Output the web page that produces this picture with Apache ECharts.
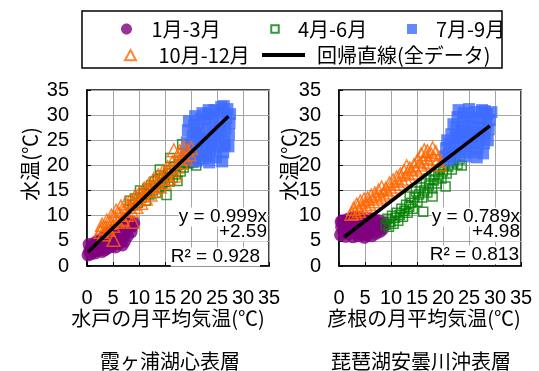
<!DOCTYPE html>
<html>
<head>
<meta charset="utf-8">
<script src="https://cdn.jsdelivr.net/npm/echarts@6/dist/echarts.min.js"></script>
<style>
  html, body { margin: 0; padding: 0; background: #fff; }
  #chart { width: 539px; height: 371px; }
</style>
</head>
<body>
<div id="chart"></div>
<script>
// Monthly mean air temperature (x, °C) vs. surface water temperature (y, °C)

const seasonNames = ['1月-3月', '4月-6月', '7月-9月', '10月-12月'];
const fitName = '回帰直線(全データ)';
const axisTicks = [0, 5, 10, 15, 20, 25, 30, 35];

const panelTitles = ['霞ヶ浦湖心表層', '琵琶湖安曇川沖表層'];
const xAxisNames = ['水戸の月平均気温(℃)', '彦根の月平均気温(℃)'];
const yAxisName = '水温(℃)';

// 霞ヶ浦 (Mito air temperature)
const kasumiJanMar = [
  [0.2, 2.2], [0.5, 3.0], [0.7, 2.4], [0.9, 3.8], [1.1, 2.8], [1.3, 3.3], [1.4, 4.5],
  [1.6, 2.6], [1.8, 3.9], [2.0, 3.1], [2.1, 5.0], [2.3, 4.2], [2.5, 3.4], [2.7, 4.8],
  [2.9, 2.9], [3.0, 5.5], [3.2, 4.0], [3.4, 3.2], [3.5, 6.0], [3.7, 4.6], [3.9, 5.3],
  [4.0, 3.6], [4.2, 6.4], [4.4, 4.9], [4.6, 3.9], [4.8, 5.8], [5.0, 7.0], [5.1, 4.4],
  [5.3, 6.3], [5.5, 3.8], [5.7, 5.2], [5.9, 7.2], [6.0, 6.0], [6.2, 4.6], [6.4, 6.8],
  [6.6, 5.5], [6.8, 7.8], [7.0, 6.4], [7.2, 4.9], [7.4, 7.3], [7.6, 8.3], [7.8, 6.0],
  [8.0, 7.6], [8.3, 8.8], [8.5, 6.8], [8.8, 8.0], [9.0, 8.6], [0.4, 4.3], [6.8, 4.2]
];
const kasumiAprJun = [
  [8.2, 13.0], [8.8, 12.2], [9.3, 13.4], [9.8, 12.6], [10.2, 15.0], [10.5, 13.6],
  [10.9, 14.4], [11.3, 13.0], [11.6, 15.4], [12.0, 14.2], [12.3, 16.0], [12.7, 15.0],
  [13.0, 16.8], [13.3, 14.5], [13.6, 17.2], [13.9, 15.6], [14.2, 18.0], [14.5, 16.4],
  [14.8, 17.6], [15.0, 16.7], [15.3, 14.1], [15.6, 18.4], [15.9, 16.8], [16.2, 19.0],
  [16.5, 17.6], [16.8, 19.8], [17.1, 18.2], [17.4, 16.9], [17.7, 20.2], [18.0, 18.8],
  [18.3, 21.0], [18.6, 19.6], [18.9, 20.6], [19.2, 22.0], [19.5, 20.4], [19.8, 21.5],
  [20.1, 22.6], [20.4, 20.6], [20.7, 21.8], [21.0, 20.0], [21.3, 22.8], [21.6, 21.2],
  [22.0, 22.2], [18.3, 24.2], [16.0, 21.5], [14.0, 19.2]
];
const kasumiJulSep = [
  [19.0, 22.2], [19.2, 24.6], [19.4, 27.0], [19.6, 28.8], [19.9, 21.0], [20.1, 23.4],
  [20.3, 25.8], [20.6, 28.0], [20.8, 29.8], [21.0, 20.8], [21.3, 22.6], [21.5, 24.8],
  [21.7, 27.2], [21.9, 29.2], [22.2, 30.4], [22.4, 21.4], [22.6, 23.6], [22.8, 26.0],
  [23.0, 28.4], [23.2, 30.2], [23.5, 20.6], [23.7, 22.8], [23.9, 25.0], [24.1, 27.4],
  [24.3, 29.6], [24.5, 31.0], [24.8, 21.6], [25.0, 23.8], [25.2, 26.2], [25.4, 28.6],
  [25.6, 30.6], [25.8, 31.6], [26.0, 20.8], [26.2, 22.6], [26.4, 25.0], [26.6, 27.4],
  [26.8, 29.4], [27.0, 31.2], [27.2, 23.8], [27.3, 26.2], [27.4, 28.4], [27.5, 30.2],
  [26.3, 31.8], [20.5, 21.6], [22.0, 25.2], [24.0, 24.0], [25.5, 27.0], [23.4, 31.0],
  [21.0, 26.5], [24.6, 26.0], [26.5, 24.0], [22.9, 22.0]
];
const kasumiOctDec = [
  [2.6, 6.8], [2.9, 8.2], [3.2, 6.3], [3.5, 7.6], [3.8, 9.0], [4.1, 7.2], [4.4, 8.6],
  [4.7, 10.0], [5.0, 8.0], [5.1, 5.2], [5.3, 9.6], [5.6, 11.0], [5.9, 8.8], [6.2, 10.3],
  [6.5, 11.8], [6.8, 9.4], [6.9, 9.1], [7.1, 11.0], [7.4, 12.5], [7.7, 10.2], [8.0, 11.8],
  [8.3, 13.0], [8.6, 11.0], [8.8, 8.8], [8.9, 12.4], [9.2, 13.8], [9.5, 11.8], [9.8, 13.2],
  [10.1, 14.6], [10.4, 12.6], [10.7, 14.0], [11.0, 15.4], [11.3, 13.4], [11.6, 15.0],
  [11.9, 16.2], [12.2, 14.2], [12.5, 15.8], [12.8, 17.2], [13.1, 15.0], [13.4, 16.6],
  [13.7, 18.0], [14.0, 15.8], [14.3, 17.4], [14.6, 18.8], [14.9, 16.6], [15.2, 18.2],
  [15.5, 19.6], [15.8, 17.4], [16.1, 19.0], [16.4, 20.6], [16.7, 23.0], [17.0, 18.0],
  [17.2, 19.8], [17.5, 21.4], [17.8, 22.8], [18.1, 20.6], [18.4, 22.0], [18.6, 23.7],
  [19.0, 21.4], [19.3, 23.0], [19.7, 22.2], [20.0, 23.5], [2.8, 7.5]
];
const kasumiFit = [0.999, 2.59, 0.928];      // slope, intercept, R²
const kasumiFitRange = [0.2, 27.2];

// 琵琶湖 (Hikone air temperature)
const biwaJanMar = [
  [0.3, 6.2], [0.5, 7.8], [0.7, 9.0], [0.9, 6.8], [1.1, 8.4], [1.3, 5.9], [1.5, 7.4],
  [1.7, 9.3], [1.9, 6.4], [2.1, 8.1], [2.3, 7.0], [2.5, 9.5], [2.7, 5.8], [2.9, 8.6],
  [3.1, 6.6], [3.3, 7.8], [3.5, 9.2], [3.7, 6.0], [3.9, 8.3], [4.1, 7.1], [4.3, 9.6],
  [4.5, 6.3], [4.7, 8.0], [4.9, 5.7], [5.1, 9.0], [5.3, 7.4], [5.5, 6.2], [5.7, 8.6],
  [5.9, 7.0], [6.1, 9.4], [6.3, 6.0], [6.5, 8.2], [6.7, 7.3], [6.9, 9.1], [7.1, 6.5],
  [7.3, 8.4], [7.5, 7.6], [7.7, 9.0], [7.9, 6.9], [8.1, 8.2], [8.4, 7.4], [8.7, 8.6],
  [0.4, 8.8], [3.0, 9.7]
];
const biwaAprJun = [
  [9.0, 8.2], [9.3, 9.4], [9.6, 7.8], [9.9, 8.8], [10.2, 10.0], [10.5, 8.4], [10.8, 9.6],
  [11.1, 10.6], [11.4, 9.0], [11.7, 10.2], [12.0, 11.4], [12.3, 9.8], [12.6, 11.0],
  [12.9, 12.2], [13.2, 10.6], [13.5, 11.8], [13.6, 13.8], [13.9, 12.6], [14.2, 11.4],
  [14.5, 13.6], [14.8, 14.8], [15.1, 12.8], [15.4, 14.2], [15.7, 15.6], [16.0, 13.6],
  [16.2, 10.8], [16.4, 15.0], [16.7, 16.4], [17.0, 14.6], [17.3, 16.0], [17.6, 17.2],
  [17.9, 15.4], [18.2, 17.0], [18.5, 18.2], [18.8, 16.4], [19.1, 17.8], [19.4, 19.2],
  [19.7, 17.4], [20.0, 18.8], [20.3, 20.0], [20.5, 15.8], [20.7, 18.4], [21.0, 19.8],
  [21.4, 21.0], [21.7, 19.2], [22.0, 20.6], [22.4, 21.6], [22.8, 20.2], [23.2, 21.2],
  [23.6, 20.0], [18.0, 13.8]
];
const biwaJulSep = [
  [20.4, 21.8], [20.6, 23.4], [20.8, 25.0], [21.2, 22.4], [21.4, 24.2], [21.6, 26.2],
  [22.0, 21.6], [22.2, 23.6], [22.4, 25.6], [22.6, 27.6], [22.8, 29.6], [23.0, 31.0],
  [23.2, 22.6], [23.4, 24.6], [23.6, 26.6], [23.8, 28.6], [24.0, 30.4], [24.3, 21.8],
  [24.5, 23.8], [24.7, 25.8], [24.9, 27.8], [25.1, 29.6], [25.4, 22.6], [25.6, 24.6],
  [25.8, 26.6], [26.0, 28.6], [26.2, 30.6], [26.5, 21.6], [26.7, 23.6], [26.9, 25.6],
  [27.1, 27.6], [27.3, 29.4], [27.5, 31.0], [27.7, 22.4], [27.9, 24.4], [28.1, 26.4],
  [28.3, 28.4], [28.5, 30.2], [28.8, 27.2], [29.0, 29.0], [29.3, 30.6], [28.6, 25.0],
  [27.6, 26.6], [25.0, 31.2], [22.0, 28.2], [21.0, 21.0], [24.2, 27.0], [26.4, 26.0],
  [23.0, 25.4], [28.0, 30.8]
];
const biwaOctDec = [
  [2.4, 10.4], [2.8, 11.4], [3.1, 10.6], [3.4, 12.2], [3.8, 11.0], [4.1, 12.8],
  [4.4, 11.6], [4.8, 13.2], [5.1, 12.0], [5.5, 13.4], [5.8, 12.4], [6.2, 14.0],
  [6.5, 12.9], [6.9, 14.4], [7.2, 13.4], [7.6, 15.0], [7.9, 13.8], [8.2, 15.6],
  [8.6, 14.2], [9.0, 15.4], [9.3, 14.6], [9.7, 16.4], [10.0, 15.2], [10.4, 17.0],
  [10.7, 15.8], [11.1, 17.6], [11.4, 16.4], [11.8, 18.2], [12.1, 17.0], [12.5, 18.8],
  [12.8, 17.4], [13.2, 18.4], [13.6, 19.4], [14.0, 18.6], [14.4, 20.0], [14.8, 19.2],
  [15.1, 21.0], [15.5, 20.2], [15.8, 22.2], [16.1, 20.8], [16.4, 23.0], [16.7, 21.6],
  [17.0, 22.8], [17.3, 20.6], [17.7, 22.2], [18.0, 23.4], [18.3, 21.4], [18.6, 22.6],
  [19.0, 21.0], [19.4, 20.2], [16.0, 19.6], [13.0, 19.8]
];
const biwaFit = [0.789, 4.98, 0.813];
const biwaFitRange = [1.0, 29.0];

const panels = [
  { seasons: [kasumiJanMar, kasumiAprJun, kasumiJulSep, kasumiOctDec], fit: kasumiFit, range: kasumiFitRange },
  { seasons: [biwaJanMar, biwaAprJun, biwaJulSep, biwaOctDec], fit: biwaFit, range: biwaFitRange }
];

const JP = '"Noto Sans CJK JP", sans-serif';
const NUM = '"Liberation Sans", Arial, sans-serif';

const seasonStyles = [
  { symbol: 'circle', symbolSize: 13, itemStyle: { color: '#7F007F' } },
  { symbol: 'rect', symbolSize: 9, itemStyle: { color: 'rgba(255,255,255,0)', borderColor: '#008000', borderWidth: 1.5 } },
  { symbol: 'rect', symbolSize: 12, itemStyle: { color: '#3D6BFF' } },
  { symbol: 'triangle', symbolSize: 13, itemStyle: { color: 'rgba(255,255,255,0)', borderColor: '#FF6600', borderWidth: 1.5 } }
];

const gridBoxes = [
  { left: 87, top: 90, width: 182, height: 176 },
  { left: 339, top: 90, width: 182, height: 176 }
];

const series = [];
panels.forEach((p, gi) => {
  p.seasons.forEach((pts, si) => {
    series.push(Object.assign({
      type: 'scatter', name: seasonNames[si],
      xAxisIndex: gi, yAxisIndex: gi,
      data: pts, silent: true, z: 2 + si
    }, seasonStyles[si]));
  });
  const [slope, intercept] = p.fit;
  series.push({
    type: 'line', name: fitName, xAxisIndex: gi, yAxisIndex: gi,
    data: p.range.map(x => [x, slope * x + intercept]),
    symbol: 'none', silent: true, z: 10,
    lineStyle: { color: '#000', width: 3.5 },
    itemStyle: { color: '#000' }
  });
});

const xNameShift = [20, 12];
const xAxes = gridBoxes.map((g, i) => ({
  type: 'value', gridIndex: i,
  min: axisTicks[0], max: axisTicks[axisTicks.length - 1], interval: 5,
  name: xAxisNames[i], nameLocation: 'middle', nameGap: 40,
  nameTextStyle: { fontFamily: JP, fontSize: 20, color: '#000', padding: [0, xNameShift[i], 0, 0] },
  axisLine: { lineStyle: { color: '#000', width: 1.5 } },
  axisTick: { show: true, inside: true, length: 4, lineStyle: { color: '#000' } },
  axisLabel: { margin: 22, fontFamily: NUM, fontSize: 20, color: '#000' },
  splitLine: { lineStyle: { color: '#A6A6A6', width: 1 } }
}));
const yAxes = gridBoxes.map((g, i) => ({
  type: 'value', gridIndex: i,
  min: axisTicks[0], max: axisTicks[axisTicks.length - 1], interval: 5,
  axisLine: { lineStyle: { color: '#000', width: 1.5 } },
  axisTick: { show: true, inside: true, length: 4, lineStyle: { color: '#000' } },
  axisLabel: { margin: 18, fontFamily: NUM, fontSize: 20, color: '#000', padding: [6, 0, 0, 0] },
  splitLine: { lineStyle: { color: '#A6A6A6', width: 1 } }
}));

// Each legend entry is its own component. The icon paths carry their own
// extent (leading moveTo points), so the marker keeps its shape inside a
// wide icon slot and the label starts further right. The component is
// placed by the marker's drawn left edge.
const legendText = { fontFamily: JP, fontSize: 20, color: '#000' };
const legends = [
  { left: 106.5, top: 19, itemWidth: 40, itemHeight: 11,
    data: [{ name: seasonNames[0], icon: 'path://M0,0M40,11M25.5,5.5C25.5,8.54,23.04,11,20,11C16.96,11,14.5,8.54,14.5,5.5C14.5,2.46,16.96,0,20,0C23.04,0,25.5,2.46,25.5,5.5Z' }] },
  { left: 256, top: 19, itemWidth: 36, itemHeight: 9,
    data: [{ name: seasonNames[1], icon: 'path://M0,0M36,9M14.25,0.75H21.75V8.25H14.25Z' }] },
  { left: 393, top: 19, itemWidth: 38, itemHeight: 10,
    data: [{ name: seasonNames[2], icon: 'path://M0,0M38,10M14,0H24V10H14Z' }] },
  { left: 106.5, top: 45, itemWidth: 46, itemHeight: 12,
    data: [{ name: seasonNames[3], icon: 'path://M0,0M46,12M23,1L28.5,11.2H17.5Z' }] },
  { left: 255, top: 45, itemWidth: 57, itemHeight: 4,
    data: [{ name: fitName, icon: 'path://M0,0M57,4M7,0H50V4H7Z' }] }
].map(l => Object.assign({
  orient: 'horizontal', padding: 0, selectedMode: false, textStyle: legendText
}, l));

function fitLabels(fit, right, rightR2, ys) {
  const [slope, intercept, r2] = fit;
  const texts = ['y = ' + slope.toFixed(3) + 'x', '+' + intercept.toFixed(2), 'R² = ' + r2.toFixed(3)];
  return texts.map((t, k) => ({
    type: 'text', z: 20,
    x: k === 2 ? rightR2 : right, y: ys[k],
    style: {
      text: t, fontFamily: NUM, fontSize: 19, fill: '#000',
      align: 'right', verticalAlign: 'middle',
      backgroundColor: '#fff'
    }
  }));
}

function yName(cx, cy) {
  return {
    type: 'text', x: cx, y: cy, rotation: Math.PI / 2,
    style: { text: yAxisName, fontFamily: JP, fontSize: 20, fill: '#000', align: 'center', verticalAlign: 'middle' }
  };
}

const graphics = [
  { type: 'rect', shape: { x: 82, y: 11, width: 420, height: 57 },
    style: { fill: 'none', stroke: '#000', lineWidth: 1.5 }, z: 0 },
  ...fitLabels(kasumiFit, 267, 260, [217, 232, 257]),
  ...fitLabels(biwaFit, 520, 519, [217, 232, 255]),
  yName(30, 164),
  yName(289, 164),
  { type: 'text', x: 170, y: 361, style: { text: panelTitles[0], fontFamily: JP, fontSize: 20, fill: '#000', align: 'center', verticalAlign: 'middle' } },
  { type: 'text', x: 421, y: 361, style: { text: panelTitles[1], fontFamily: JP, fontSize: 20, fill: '#000', align: 'center', verticalAlign: 'middle' } }
];

const chart = echarts.init(document.getElementById('chart'), null, { renderer: 'canvas' });
chart.setOption({
  animation: false,
  backgroundColor: '#fff',
  grid: gridBoxes.map(g => Object.assign({ show: true, borderColor: '#000', borderWidth: 1.5, backgroundColor: 'transparent' }, g)),
  xAxis: xAxes,
  yAxis: yAxes,
  legend: legends,
  series: series,
  graphic: graphics
});
</script>
</body>
</html>
